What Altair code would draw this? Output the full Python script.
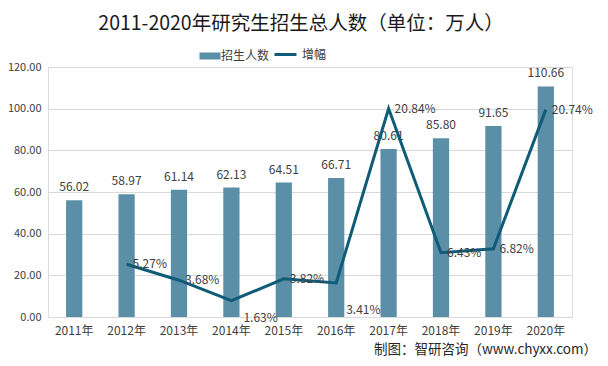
import altair as alt
import pandas as pd

years = ["2011年", "2012年", "2013年", "2014年", "2015年", "2016年", "2017年", "2018年", "2019年", "2020年"]
enrollment = [56.02, 58.97, 61.14, 62.13, 64.51, 66.71, 80.61, 85.80, 91.65, 110.66]
growth = [None, 0.0527, 0.0368, 0.0163, 0.0382, 0.0341, 0.2084, 0.0643, 0.0682, 0.2074]
growth_labels = ["", "5.27%", "3.68%", "1.63%", "3.82%", "3.41%", "20.84%", "6.43%", "6.82%", "20.74%"]
below_2014 = ["2014年"]
below_2016 = ["2016年"]

BAR_COLOR = "#5b8fa8"
LINE_COLOR = "#0f5b78"
FONT = "Noto Sans CJK SC"
TXT = "#404040"

df = pd.DataFrame({
    "year": years,
    "enrollment": enrollment,
    "growth": growth,
    "glabel": growth_labels,
})
df["bar_series"] = "招生人数"
df["line_series"] = "增幅"

x_enc = alt.X(
    "year:N", sort=years, title=None,
    scale=alt.Scale(paddingInner=0.69, paddingOuter=0.345),
    axis=alt.Axis(labelAngle=0, ticks=False, domain=False, labelPadding=8,
                  labelFontSize=12, labelColor=TXT, labelFont=FONT),
)

y_left = alt.Y(
    "enrollment:Q", title=None,
    scale=alt.Scale(domain=[0, 120], nice=False),
    axis=alt.Axis(values=[0, 20, 40, 60, 80, 100, 120], format=".2f", domain=False, ticks=False,
                  gridColor="#d9d9d9", labelPadding=7, labelFontSize=11, labelColor=TXT, labelFont=FONT),
)

bars = alt.Chart(df).mark_bar().encode(
    x=x_enc,
    y=y_left,
    color=alt.Color(
        "bar_series:N",
        scale=alt.Scale(range=[BAR_COLOR]),
        legend=alt.Legend(
            title=None, orient="none", legendX=155, legendY=-18,
            symbolType="M-1.5,-0.5H1.5V0.5H-1.5Z", symbolSize=196, symbolStrokeWidth=0,
            labelFont=FONT, labelFontSize=12, labelColor=TXT, labelOffset=4,
        ),
    ),
)

bar_text = alt.Chart(df).mark_text(baseline="bottom", dy=-6, fontSize=12, font=FONT, color=TXT).encode(
    x=alt.X("year:N", sort=years),
    y=alt.Y("enrollment:Q", scale=alt.Scale(domain=[0, 120], nice=False)),
    text=alt.Text("enrollment:Q", format=".2f"),
)

y_right = alt.Y(
    "growth:Q", title=None,
    scale=alt.Scale(domain=[0, 0.25], nice=False),
    axis=alt.Axis(orient="right", values=[0, 0.05, 0.1, 0.15, 0.2, 0.25], format=".2~f", grid=False,
                  domain=False, ticks=False, labelPadding=8, labelFontSize=12, labelColor=TXT, labelFont=FONT),
)

line_base = alt.Chart(df).transform_filter("datum.growth != null")

line = line_base.mark_line(strokeWidth=3).encode(
    x=alt.X("year:N", sort=years),
    y=y_right,
    stroke=alt.Stroke(
        "line_series:N",
        scale=alt.Scale(range=[LINE_COLOR]),
        legend=alt.Legend(
            title=None, orient="none", legendX=225, legendY=-25,
            symbolType="stroke", symbolSize=484, symbolStrokeWidth=3,
            labelFont=FONT, labelFontSize=12, labelColor=TXT, labelOffset=4,
        ),
    ),
)

y_r_plain = alt.Y("growth:Q", scale=alt.Scale(domain=[0, 0.25], nice=False), axis=None)


def growth_text(selector, dx, dy):
    return line_base.transform_filter(selector).mark_text(
        align="left", baseline="middle", dx=dx, dy=dy, fontSize=12, font=FONT, color=TXT
    ).encode(
        x=alt.X("year:N", sort=years),
        y=y_r_plain,
        text="glabel:N",
    )


line_text = growth_text(~alt.FieldOneOfPredicate(field="year", oneOf=below_2014 + below_2016), 6, 0)
line_text_2014 = growth_text(alt.FieldOneOfPredicate(field="year", oneOf=below_2014), 12, 17)
line_text_2016 = growth_text(alt.FieldOneOfPredicate(field="year", oneOf=below_2016), 10, 27)

footer = alt.Chart(pd.DataFrame({"t": ["制图：智研咨询（www.chyxx.com）"]})).mark_text(
    align="right", baseline="middle", fontSize=13.5, font=FONT, color="#262626"
).encode(
    x=alt.value(549), y=alt.value(283), text="t:N"
)

left = alt.layer(bars, bar_text)
right = alt.layer(line, line_text, line_text_2014, line_text_2016)

chart = alt.layer(left, right, footer).resolve_scale(y="independent").properties(
    width=524, height=250,
    title=alt.TitleParams(
        "2011-2020年研究生招生总人数（单位：万人）",
        font=FONT, fontSize=19.5, fontWeight="normal", color="#1a1a1a",
        anchor="middle", offset=8, dx=-9,
    ),
    autosize=alt.AutoSizeParams(type="none"),
    padding={"left": 40, "top": 59, "right": 28, "bottom": 41},
).configure_view(stroke=None).configure(background="white")

chart.save("out.html", embed_options={"renderer": "svg", "actions": False})
